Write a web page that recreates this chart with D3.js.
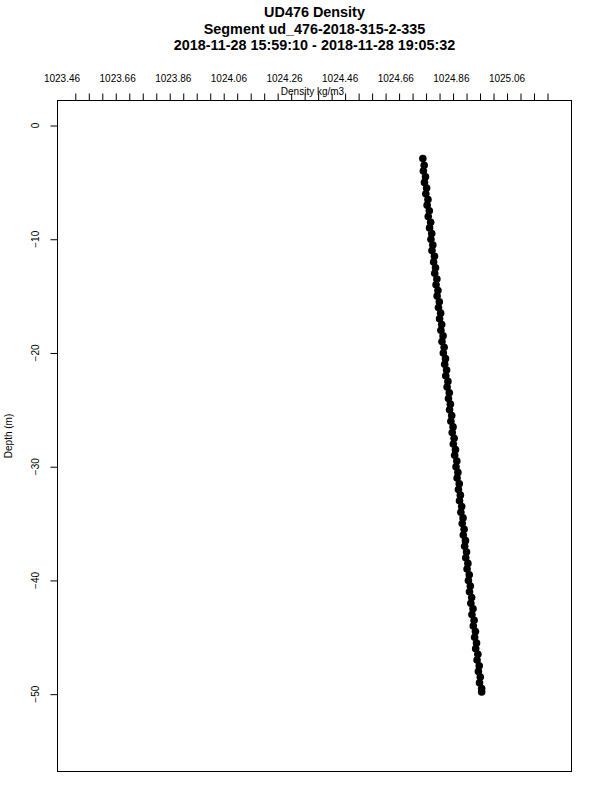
<!DOCTYPE html>
<html>
<head>
<meta charset="UTF-8">
<title>UD476 Density</title>
<script src="https://d3js.org/d3.v7.min.js"></script>
<style>
  body { margin: 0; background: #fff; }
  svg { font-family: "Liberation Sans", Arial, sans-serif; }
</style>
</head>
<body>
<svg width="600" height="800"></svg>
<script>
// chart text
const titleLines = [
  "UD476 Density",
  "Segment ud_476-2018-315-2-335",
  "2018-11-28 15:59:10 - 2018-11-28 19:05:32"
];
const xLabel = "Density kg/m3";
const yLabel = "Depth (m)";

// axis labels
const xTickLabels = ["1023.46", "1023.66", "1023.86", "1024.06", "1024.26", "1024.46", "1024.66", "1024.86", "1025.06"];
const yTickValues = [0, -10, -20, -30, -40, -50];

// profile (depth m, density kg/m3)
const depth = [
  -2.9, -3.5, -4.0, -4.5, -5.0, -5.5, -6.0, -6.5, -7.0, -7.5, -8.0, -8.5, -9.0, -9.5, -10.0,
  -10.5, -11.0, -11.5, -12.0, -12.5, -13.0, -13.5, -14.0, -14.5, -15.0, -15.5, -16.0, -16.5, -17.0,
  -17.5, -18.0, -18.5, -19.0, -19.5, -20.0, -20.5, -21.0, -21.5, -22.0, -22.5, -23.0, -23.5, -24.0,
  -24.5, -25.0, -25.5, -26.0, -26.5, -27.0, -27.5, -28.0, -28.5, -29.0, -29.5, -30.0, -30.5, -31.0,
  -31.5, -32.0, -32.5, -33.0, -33.5, -34.0, -34.5, -35.0, -35.5, -36.0, -36.5, -37.0, -37.5, -38.0,
  -38.5, -39.0, -39.5, -40.0, -40.5, -41.0, -41.5, -42.0, -42.5, -43.0, -43.5, -44.0, -44.5, -45.0,
  -45.5, -46.0, -46.5, -47.0, -47.5, -48.0, -48.5, -49.0, -49.5, -49.8
];
const density = [
  1024.748, 1024.753, 1024.750, 1024.758, 1024.754, 1024.762, 1024.759, 1024.767, 1024.764, 1024.772, 1024.768, 1024.777, 1024.773, 1024.781, 1024.778,
  1024.785, 1024.782, 1024.791, 1024.788, 1024.795, 1024.792, 1024.800, 1024.797, 1024.804, 1024.801, 1024.809, 1024.806, 1024.814, 1024.810,
  1024.818, 1024.815, 1024.823, 1024.819, 1024.827, 1024.824, 1024.832, 1024.829, 1024.836, 1024.833, 1024.841, 1024.838, 1024.846, 1024.843,
  1024.850, 1024.847, 1024.855, 1024.852, 1024.860, 1024.857, 1024.864, 1024.861, 1024.869, 1024.866, 1024.874, 1024.871, 1024.878, 1024.875,
  1024.883, 1024.880, 1024.887, 1024.884, 1024.892, 1024.889, 1024.897, 1024.894, 1024.901, 1024.898, 1024.906, 1024.903, 1024.910, 1024.907,
  1024.915, 1024.912, 1024.920, 1024.917, 1024.924, 1024.921, 1024.929, 1024.926, 1024.934, 1024.930, 1024.938, 1024.935, 1024.943, 1024.940,
  1024.947, 1024.944, 1024.952, 1024.949, 1024.957, 1024.954, 1024.961, 1024.958, 1024.966, 1024.966
];

const svg = d3.select("svg");
const plotLeft = 57.5, plotRight = 571.5, plotTop = 100.5, plotBottom = 771.5;

const x = d3.scaleLinear().domain([1023.394, 1025.299]).range([plotLeft, plotRight]);
const y = d3.scaleLinear().domain([2.2, -56.8]).range([plotTop, plotBottom]);
// the printed labels sit on their own spacing, not on the minor ticks
const xLab = d3.scalePoint().domain(xTickLabels).range([62, 507]);

// title
svg.append("g").selectAll("text")
  .data(titleLines)
  .join("text")
  .attr("x", (plotLeft + plotRight) / 2)
  .attr("y", (d, i) => 17 + i * 16.5)
  .attr("text-anchor", "middle")
  .attr("font-size", "14.4px")
  .attr("font-weight", "bold")
  .text(d => d);

// plot box
svg.append("rect")
  .attr("x", plotLeft).attr("y", plotTop)
  .attr("width", plotRight - plotLeft).attr("height", plotBottom - plotTop)
  .attr("fill", "none").attr("stroke", "#000").attr("stroke-width", 1);

// top axis: minor ticks every 0.05
const xAxis = d3.axisTop(x)
  .tickValues(d3.range(0, 36).map(i => 1023.46 + i * 0.05))
  .tickSize(7)
  .tickFormat("");
const gx = svg.append("g").attr("transform", `translate(0,${plotTop})`).call(xAxis);
gx.select(".domain").remove();
gx.selectAll("line").attr("stroke", "#000");

svg.append("g").selectAll("text")
  .data(xTickLabels)
  .join("text")
  .attr("x", d => xLab(d))
  .attr("y", 82)
  .attr("text-anchor", "middle")
  .attr("font-size", "10px")
  .text(d => d);

svg.append("text")
  .attr("x", (plotLeft + plotRight) / 2 - 2)
  .attr("y", 95)
  .attr("text-anchor", "middle")
  .attr("font-size", "10px")
  .text(xLabel);

// left axis
const yAxis = d3.axisLeft(y).tickValues(yTickValues).tickSize(7).tickFormat("");
const gy = svg.append("g").attr("transform", `translate(${plotLeft},0)`).call(yAxis);
gy.select(".domain").remove();
gy.selectAll("line").attr("stroke", "#000");

svg.append("g").selectAll("text")
  .data(yTickValues)
  .join("text")
  .attr("transform", d => `translate(39,${y(d)}) rotate(-90)`)
  .attr("text-anchor", "middle")
  .attr("font-size", "10px")
  .text(d => d === 0 ? "0" : "\u2212" + Math.abs(d));

svg.append("text")
  .attr("transform", `translate(12,${(plotTop + plotBottom) / 2}) rotate(-90)`)
  .attr("text-anchor", "middle")
  .attr("font-size", "10px")
  .text(yLabel);

// points
svg.append("g").selectAll("circle")
  .data(depth.map((d, i) => ({ d, rho: density[i] })))
  .join("circle")
  .attr("cx", p => x(p.rho))
  .attr("cy", p => y(p.d))
  .attr("r", 3.8)
  .attr("fill", "#000");
</script>
</body>
</html>
